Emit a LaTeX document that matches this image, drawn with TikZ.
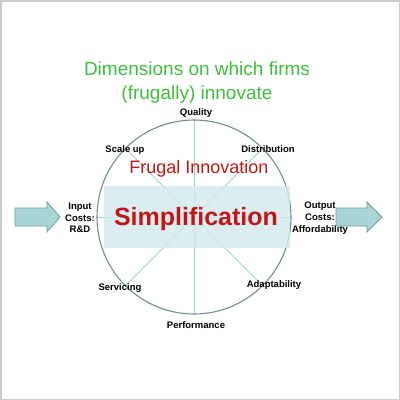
\documentclass[tikz,border=0pt]{standalone}
\usepackage{fontspec}
\setmainfont{Liberation Sans}
\definecolor{rimgray}{HTML}{6F8E92}
\definecolor{spokeblue}{HTML}{9DD0D4}
\definecolor{bandblue}{HTML}{D3E9EF}
\definecolor{arrowfill}{HTML}{A9D5D9}
\definecolor{arrowedge}{HTML}{6C9CA2}
\definecolor{titlegreen}{HTML}{3DBF3D}
\definecolor{frugalred}{HTML}{BF1616}
\tikzset{
  dim/.style={font=\bfseries\fontsize{9.5}{11.7}\selectfont, inner sep=0pt, anchor=base},
  costs/.style={font=\bfseries\fontsize{9.5}{11.7}\selectfont, inner sep=0pt, align=center},
  blockarrow/.style={draw=arrowedge, fill=arrowfill, line width=0.8pt}
}
\begin{document}
\begin{tikzpicture}[x=1pt, y=-1pt]
    \useasboundingbox (0,0) rectangle (400,400);
    \draw[gray!40, line width=1.5pt] (0.75,0.75) rectangle (399.25,399.25);

    \node[titlegreen, font=\fontsize{19}{24}\selectfont, align=center, inner sep=0pt]
        (title) at (197,83) {Dimensions on which firms\\(frugally) innovate};

    \coordinate (hub) at (194,217);
    \foreach \a in {0,45,90,135} {
        \draw[spokeblue, line width=1pt] (hub) ++(\a:97) -- ++(\a+180:194);
    }
    \draw[rimgray, line width=1.1pt] (hub) circle[radius=97];

    \fill[bandblue, opacity=0.8] (104,186) rectangle (290,248);

    \node[frugalred, font=\fontsize{18}{20}\selectfont, inner sep=0pt, anchor=base]
        (frugal) at (199,173) {Frugal Innovation};
    \node[frugalred, font=\bfseries\fontsize{25}{28}\selectfont, inner sep=0pt, anchor=base]
        (simple) at (196,225) {Simplification};

    \node[dim] (quality) at (196,115) {Quality};
    \node[dim] (scale) at (125,152) {Scale up};
    \node[dim] (distrib) at (268,152) {Distribution};
    \node[dim] (servicing) at (120,290) {Servicing};
    \node[dim] (adapt) at (274,287) {Adaptability};
    \node[dim] (perform) at (196,328) {Performance};

    \node[costs] (input) at (80,218) {Input\\Costs:\\R\&D};
    \node[costs] (output) at (320,218) {Output\\Costs:\\Affordability};

    \draw[blockarrow] (15,208) -- (47,208) -- (47,202) -- (60,217)
        -- (47,232) -- (47,226) -- (15,226) -- cycle;
    \draw[blockarrow] (336,208) -- (367,208) -- (367,202) -- (382,217)
        -- (367,232) -- (367,226) -- (336,226) -- cycle;
\end{tikzpicture}
\end{document}
